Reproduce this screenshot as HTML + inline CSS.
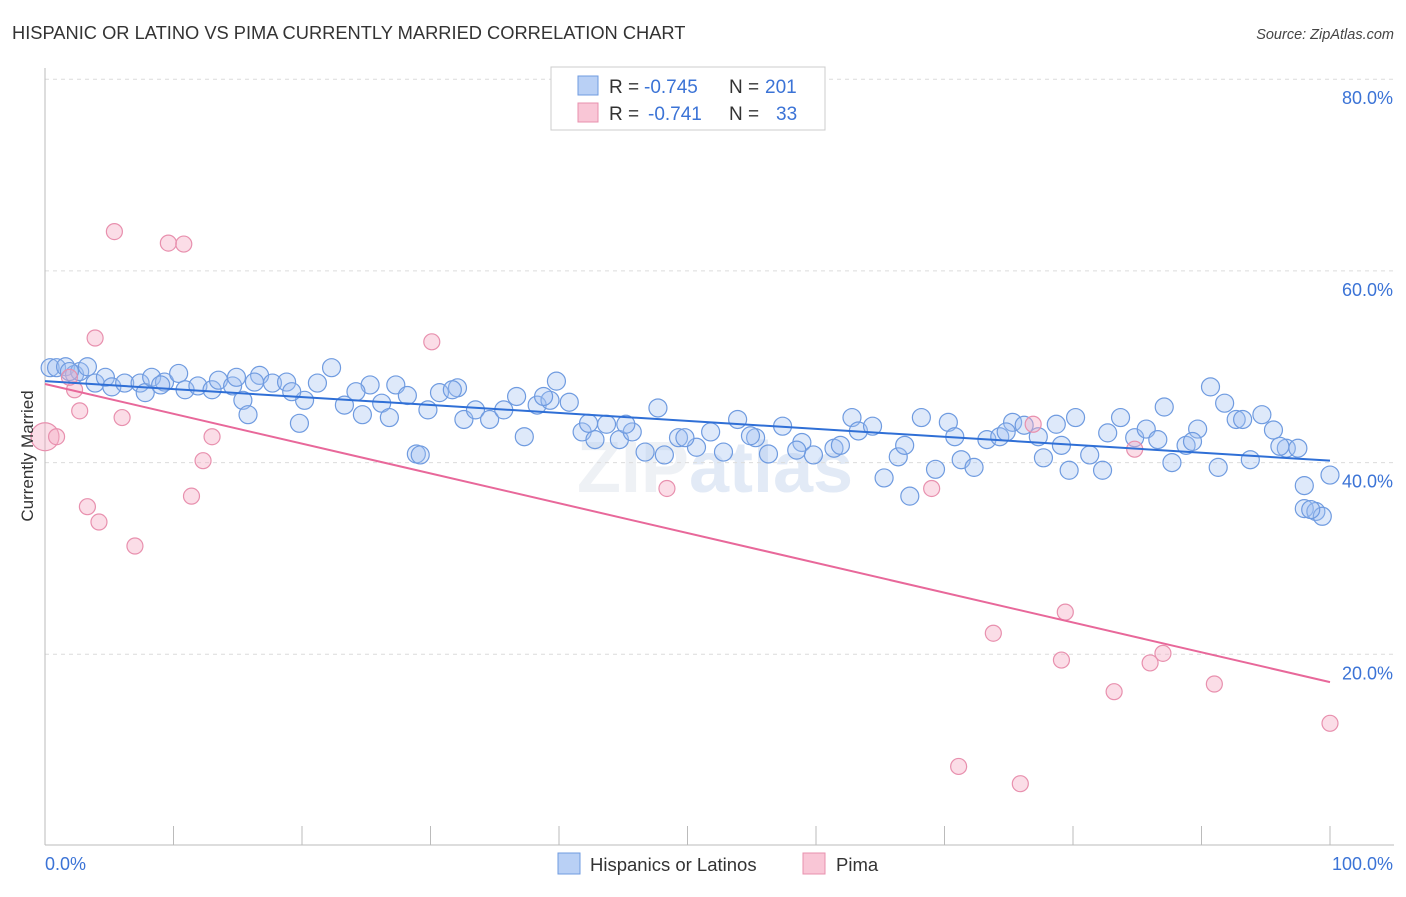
<!DOCTYPE html>
<html><head><meta charset="utf-8">
<style>
body{margin:0;background:#fff;font-family:"Liberation Sans",sans-serif;}
svg text{font-family:"Liberation Sans",sans-serif;}
</style></head>
<body>
<svg id="chart" width="1406" height="892" xmlns="http://www.w3.org/2000/svg">
<text x="12" y="39" font-size="18.3" fill="#333">HISPANIC OR LATINO VS PIMA CURRENTLY MARRIED CORRELATION CHART</text>
<text x="1394" y="39" font-size="14.5" fill="#444" text-anchor="end" font-style="italic">Source: ZipAtlas.com</text>
<text x="715" y="492" font-size="72" fill="#eef1f5" text-anchor="middle" font-weight="bold">ZIP<tspan fill="#e2eaf6">atlas</tspan></text>
<g id="grid"></g>
<g id="axes"></g>
<g id="pts"></g>
<g id="trends"></g>
<text transform="translate(33,456) rotate(-90)" font-size="17" fill="#333" text-anchor="middle">Currently Married</text>
<g>
<rect x="551" y="67" width="274" height="63" fill="#fff" stroke="#ccc"/>
<rect x="578" y="76" width="20" height="19" fill="#b9d0f5" stroke="#6f9be0"/>
<rect x="578" y="103" width="20" height="19" fill="#f9c6d6" stroke="#e890ae"/>
<text x="609" y="93" font-size="19" fill="#333">R =</text>
<text x="644" y="93" font-size="19" fill="#3b73d6">-0.745</text>
<text x="729" y="93" font-size="19" fill="#333">N =</text>
<text x="765" y="93" font-size="19" fill="#3b73d6">201</text>
<text x="609" y="120" font-size="19" fill="#333">R =</text>
<text x="648" y="120" font-size="19" fill="#3b73d6">-0.741</text>
<text x="729" y="120" font-size="19" fill="#333">N =</text>
<text x="776" y="120" font-size="19" fill="#3b73d6">33</text>
</g>
<g>
<rect x="558" y="853" width="22" height="21" fill="#b9d0f5" stroke="#6f9be0"/>
<text x="590" y="871" font-size="18.5" fill="#333">Hispanics or Latinos</text>
<rect x="803" y="853" width="22" height="21" fill="#f9c6d6" stroke="#e890ae"/>
<text x="836" y="871" font-size="18.5" fill="#333">Pima</text>
</g>
</svg>
<script>
const yTicks=[20,40,60,80];
const yTickLabels=["20.0%","40.0%","60.0%","80.0%"];
const xTicks=[0,10,20,30,40,50,60,70,80,90,100];
const blueX=[0.4,0.9,1.6,2.3,2.7,3.3,3.9,4.7,5.2,6.2,7.4,7.8,8.3,9.3,10.4,10.9,11.9,13.0,13.5,14.6,14.9,15.4,15.8,16.7,17.7,18.8,19.8,20.2,21.2,22.3,23.3,24.7,25.3,26.2,26.8,27.3,28.2,28.9,29.2,29.8,30.7,32.1,32.6,33.5,34.6,35.7,36.7,37.3,38.3,39.3,39.8,40.8,41.8,42.8,43.7,44.7,45.7,46.7,47.7,48.2,49.3,50.7,51.8,52.8,53.9,55.3,56.3,57.4,58.9,59.8,61.4,62.8,63.3,64.4,65.3,66.4,67.3,68.2,69.3,70.3,71.3,72.3,73.3,74.3,75.3,76.2,77.3,77.7,78.7,79.7,80.2,81.3,82.3,83.7,84.8,85.7,87.1,87.7,88.8,89.7,90.7,91.3,91.8,92.7,93.8,94.7,95.6,96.6,97.5,98.0,98.0,98.9,99.4,100,1.9,9.0,16.3,19.2,24.2,31.7,38.8,42.3,45.2,49.8,54.9,58.5,61.9,66.9,70.8,74.8,79.1,82.7,86.6,89.3,93.2,96.1,98.5];
const blueY=[49.9,49.9,50.0,49.2,49.5,50.0,48.3,48.9,47.9,48.3,48.3,47.3,48.9,48.4,49.3,47.6,48.0,47.6,48.6,48.0,48.9,46.5,45.0,49.1,48.3,48.4,44.1,46.5,48.3,49.9,46.0,45.0,48.1,46.2,44.7,48.1,47.0,40.9,40.8,45.5,47.3,47.8,44.5,45.5,44.5,45.5,46.9,42.7,46.0,46.5,48.5,46.3,43.2,42.4,44.0,42.4,43.2,41.1,45.7,40.8,42.6,41.6,43.2,41.1,44.5,42.6,40.9,43.8,42.1,40.8,41.5,44.7,43.3,43.8,38.4,40.6,36.5,44.7,39.3,44.2,40.3,39.5,42.4,42.7,44.2,43.9,42.7,40.5,44.0,39.2,44.7,40.8,39.2,44.7,42.6,43.5,45.8,40.0,41.8,43.5,47.9,39.5,46.2,44.5,40.3,45.0,43.4,41.5,41.5,37.6,35.2,34.9,34.4,38.7,49.5,48.1,48.4,47.4,47.4,47.6,46.9,44.1,44.0,42.6,42.8,41.3,41.8,41.8,42.7,43.2,41.8,43.1,42.4,42.2,44.5,41.7,35.1];
const pinkX=[0,0.9,5.4,9.6,10.8,3.9,30.1,2.3,2.7,6.0,13.0,12.3,3.3,4.2,11.4,7.0,48.4,69.0,76.9,84.8,79.4,73.8,79.1,87.0,86.0,83.2,91.0,100,71.1,75.9,1.9];
const pinkY=[42.7,42.7,64.1,62.9,62.8,53.0,52.6,47.6,45.4,44.7,42.7,40.2,35.4,33.8,36.5,31.3,37.3,37.3,44.0,41.4,24.4,22.2,19.4,20.1,19.1,16.1,16.9,12.8,8.3,6.5,48.9];
const blueTrend=[48.5,40.2];
const pinkTrend=[48.2,17.1];
const NS="http://www.w3.org/2000/svg";
const sx=v=>45+v*12.85, sy=v=>846-v*9.585;
function mk(tag,attrs,parent){const e=document.createElementNS(NS,tag);for(const k in attrs)e.setAttribute(k,attrs[k]);document.getElementById(parent).appendChild(e);return e;}
yTicks.forEach((t,i)=>{
 const l=mk('line',{x1:45,x2:1394,y1:sy(t),y2:sy(t),stroke:'#dcdcdc','stroke-dasharray':'4,4'},'grid');
 
 
 const tx=mk('text',{x:1393,y:sy(t)+25,'font-size':18,fill:'#3b73d6','text-anchor':'end'},'grid');
 tx.textContent=yTickLabels[i];
 
 
});
const ax=mk('line',{x1:45,x2:1394,y1:845,y2:845,stroke:'#bbb'},'axes');


const ay=mk('line',{x1:45,x2:45,y1:68,y2:845,stroke:'#bbb'},'axes');


xTicks.forEach(t=>{const l=mk('line',{x1:sx(t),x2:sx(t),y1:826,y2:845,stroke:'#bbb'},'axes');
 
 });
const xl0=mk('text',{x:45,y:870,'font-size':18,fill:'#3b73d6'},'axes');xl0.textContent='0.0%';


const xl1=mk('text',{x:1393,y:870,'font-size':18,fill:'#3b73d6','text-anchor':'end'},'axes');xl1.textContent='100.0%';


blueX.forEach((x,i)=>{const c=mk('circle',{cx:sx(x),cy:sy(blueY[i]),r:9,fill:'rgba(160,192,242,0.35)',stroke:'#6f9be0','stroke-width':1.2},'pts');
 
 });
pinkX.forEach((x,i)=>{const c=mk('circle',{cx:sx(x),cy:sy(pinkY[i]),r:i==0?14:8,fill:'rgba(245,170,195,0.4)',stroke:'#e890ae','stroke-width':1.2},'pts');
 
 });
const bt=mk('line',{x1:sx(0),y1:sy(blueTrend[0]),x2:sx(100),y2:sy(blueTrend[1]),stroke:'#2f6fd6','stroke-width':2},'trends');


const pt=mk('line',{x1:sx(0),y1:sy(pinkTrend[0]),x2:sx(100),y2:sy(pinkTrend[1]),stroke:'#e8689a','stroke-width':2},'trends');


</script>
</body></html>
